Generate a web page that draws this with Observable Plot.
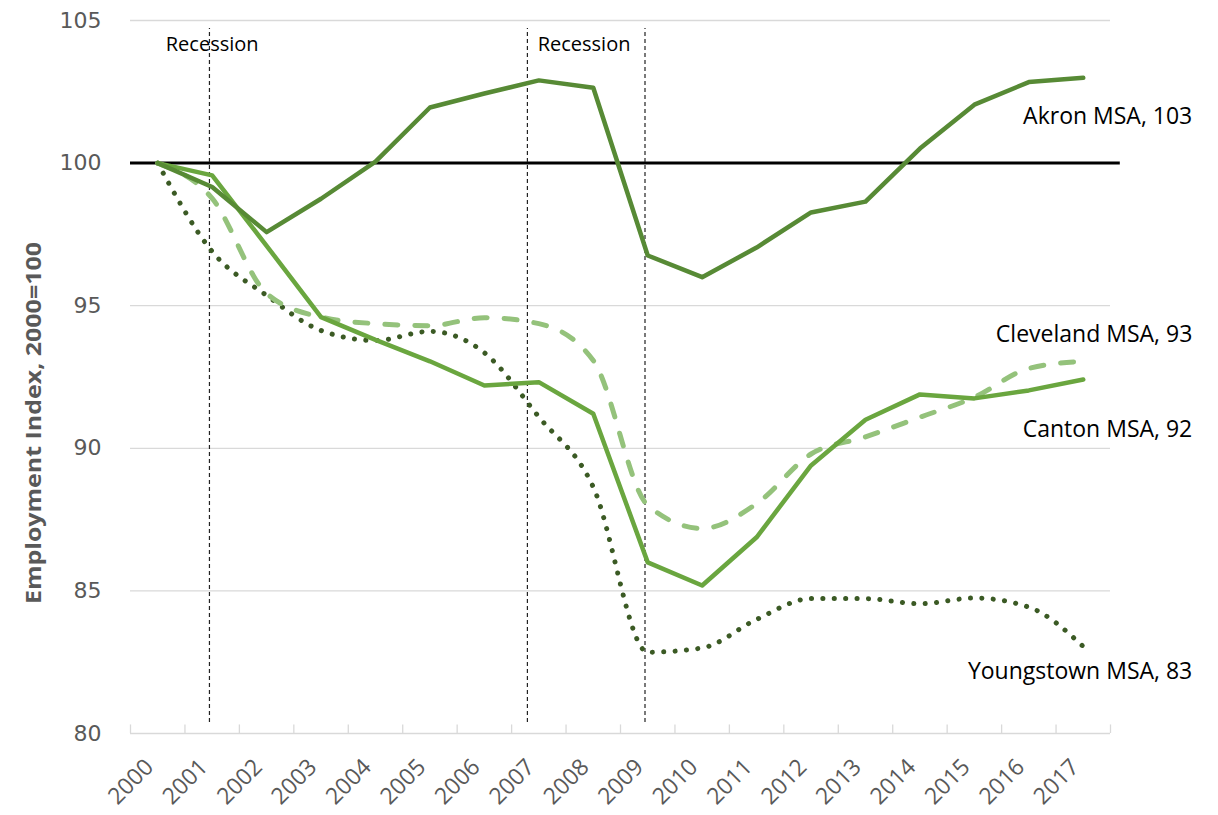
<!DOCTYPE html>
<html>
<head>
<meta charset="utf-8">
<script src="https://cdn.jsdelivr.net/npm/d3@7"></script>
<script src="https://cdn.jsdelivr.net/npm/@observablehq/plot@0.6"></script>
<style>
  html, body { margin: 0; padding: 0; background: #fff; }
  #chart svg { display: block; }
</style>
</head>
<body>
<div id="chart"></div>
<script>
// ---- Data ----
const years = [2000,2001,2002,2003,2004,2005,2006,2007,2008,2009,2010,2011,2012,2013,2014,2015,2016,2017];
const akron      = [100, 99.16, 97.58, 98.75, 100.05, 101.95, 102.44, 102.9, 102.64, 96.76, 96.0, 97.04, 98.27, 98.65, 100.51, 102.05, 102.84, 102.99];
const canton     = [100, 99.57, 97.1, 94.6, 93.8, 93.05, 92.2, 92.32, 91.21, 86.0, 85.19, 86.88, 89.4, 91.0, 91.89, 91.75, 92.03, 92.41];
const cleveland  = [100, 98.76, 95.43, 94.6, 94.37, 94.3, 94.58, 94.37, 93.08, 88.0, 87.19, 88.06, 89.8, 90.4, 91.09, 91.79, 92.8, 93.05];
const youngstown = [100, 96.9, 95.36, 94.13, 93.78, 94.1, 93.35, 91.1, 88.64, 82.85, 83.0, 84.0, 84.73, 84.73, 84.55, 84.75, 84.43, 83.05];
const yTicks = [80, 85, 90, 95, 100, 105];
const seriesNames = ["Akron MSA, 103", "Cleveland MSA, 93", "Canton MSA, 92", "Youngstown MSA, 83"];
const recessionLines = [2000.95, 2006.79, 2008.95];
const recessionLabels = ["Recession", "Recession"];

const rows = (vals) => years.map((y, i) => ({year: y, value: vals[i]}));

const font = "'Open Sans', 'Noto Sans', sans-serif";

const chart = Plot.plot({
  width: 1218,
  height: 815,
  marginLeft: 130,
  marginRight: 108,
  marginTop: 20,
  marginBottom: 82,
  style: {fontFamily: font, background: "#fff", overflow: "visible"},
  x: {domain: [1999.5, 2017.5], axis: null},
  y: {domain: [80, 105], axis: null},
  marks: [
    // gridlines
    Plot.ruleY(yTicks.filter(d => d !== 100), {stroke: "#d9d9d9", strokeWidth: 1.3}),
    // category boundary tick marks on the x axis
    Plot.ruleX(d3.range(1999.5, 2018, 1), {y1: 80, y2: 80.3, stroke: "#d9d9d9", strokeWidth: 1.3}),
    // y axis tick labels
    Plot.axisY({ticks: yTicks, tickSize: 0, tickPadding: 29, fontSize: 22, fill: "#595959", tickFormat: d3.format("d"), label: null, fontFamily: "'DejaVu Sans', sans-serif"}),
    // x tick labels (rotated)
    Plot.text(years, {x: d => d, frameAnchor: "bottom", dy: 35, dx: -3, rotate: -45, textAnchor: "end", text: d => String(d), fontSize: 23, fill: "#595959"}),
    // y axis title
    Plot.text(["Employment Index, 2000=100"], {frameAnchor: "left", dx: -97, dy: 46, rotate: -90, fontSize: 22, fontWeight: "bold", fill: "#595959", textAnchor: "middle", className: "ytitle"}),
    // 100 baseline
    Plot.ruleY([100], {x1: 1999.5, x2: 2017.68, stroke: "#000", strokeWidth: 3}),
    // recession lines
    Plot.ruleX(recessionLines, {y1: 80.39, y2: 104.72, stroke: "#222", strokeWidth: 1.2, strokeDasharray: "4 3"}),
    Plot.text(recessionLabels, {x: [2001.0, 2007.83], y: [104.16, 104.16], text: d => d, fontSize: 20, fill: "#000"}),
    // series
    Plot.line(rows(youngstown), {x: "year", y: "value", stroke: "#3b5a24", strokeWidth: 5, strokeDasharray: "0.1 11.3", strokeLinecap: "round", curve: "monotone-x"}),
    Plot.line(rows(cleveland), {x: "year", y: "value", stroke: "#94c27b", strokeWidth: 5, strokeDasharray: "13 17", strokeLinecap: "round", curve: "monotone-x"}),
    Plot.line(rows(canton), {x: "year", y: "value", stroke: "#6aa63f", strokeWidth: 4.5, strokeLinecap: "round", strokeLinejoin: "round"}),
    Plot.line(rows(akron), {x: "year", y: "value", stroke: "#578a35", strokeWidth: 4.5, strokeLinecap: "round", strokeLinejoin: "round"}),
    // series labels
    Plot.text(seriesNames, {x: [2017, 2017, 2017, 2017], y: [101.63, 93.99, 90.66, 82.17], text: d => d, dx: 109, textAnchor: "end", fontSize: 23, fill: "#000"})
  ]
});

document.getElementById("chart").appendChild(chart);
// stretch the axis title to the reference's length
d3.select(chart).selectAll("g.ytitle text").attr("textLength", 362).attr("lengthAdjust", "spacingAndGlyphs");
</script>
</body>
</html>
